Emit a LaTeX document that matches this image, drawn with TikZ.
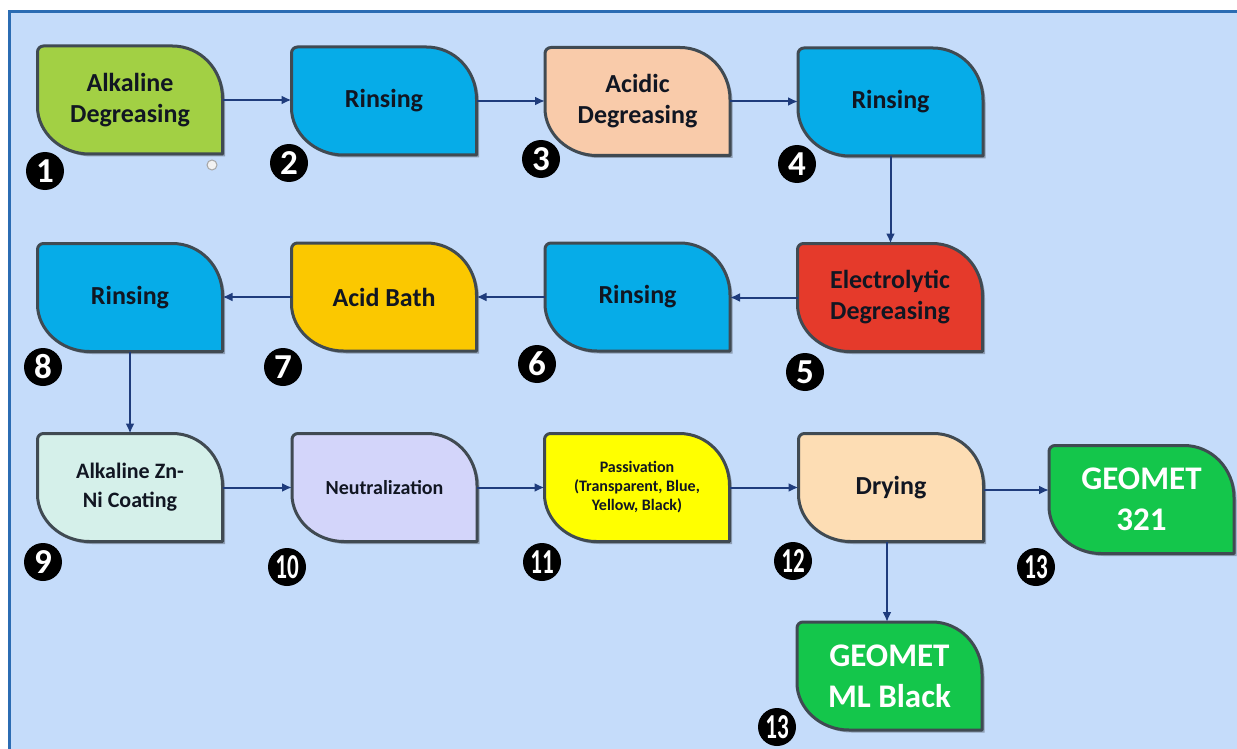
\documentclass[tikz,border=0pt]{standalone}
\usepackage{fontspec}
\setmainfont{Carlito}
\usetikzlibrary{arrows.meta,calc}
\pgfdeclarelayer{back}
\pgfdeclarelayer{background}
\pgfsetlayers{back,background,main}

\definecolor{bgblue}{HTML}{C5DCFA}
\definecolor{frameblue}{HTML}{2B6CB3}
\definecolor{edgegray}{HTML}{404A52}
\definecolor{arrowc}{HTML}{1F3C7C}
\definecolor{textc}{HTML}{111622}
\definecolor{cAlk}{HTML}{A2D044}
\definecolor{cRinse}{HTML}{06ACE8}
\definecolor{cAcidic}{HTML}{F9CBAA}
\definecolor{cElec}{HTML}{E53A2B}
\definecolor{cAcid}{HTML}{FBC800}
\definecolor{cZn}{HTML}{D5F0EA}
\definecolor{cNeut}{HTML}{D3D5FA}
\definecolor{cPass}{HTML}{FFFF00}
\definecolor{cDry}{HTML}{FDDDB4}
\definecolor{cGeo}{HTML}{14C64B}

\tikzset{
  stepnode/.style={rectangle, minimum width=185pt, minimum height=108pt,
    inner sep=0pt, outer sep=0pt, align=center,
    font=\bfseries\fontsize{26}{31}\selectfont, text=textc},
  geonode/.style={stepnode, text=white, font=\bfseries\fontsize{33}{41}\selectfont},
  badge/.style={circle, fill=black, text=white, minimum size=38pt, inner sep=0pt,
    font=\bfseries\fontsize{35}{35}\selectfont},
  flow/.style={draw=arrowc, line width=2pt, -{Latex[length=10pt,width=9pt]}},
  leafshape/.style={draw=edgegray, line width=3pt, line join=round},
}

\newcommand\leafpath[1]{($(#1.north west)+(0pt,-6pt)$) .. controls ($(#1.north west)+(0pt,-2.7pt)$) and ($(#1.north west)+(2.7pt,0pt)$) .. ($(#1.north west)+(6pt,0pt)$) -- ($(#1.north east)+(-50pt,0pt)$) .. controls ($(#1.north east)+(-22.4pt,0pt)$) and ($(#1.north east)+(0pt,-23pt)$) .. ($(#1.north east)+(0pt,-52pt)$) -- (#1.south east) -- ($(#1.south west)+(52pt,0pt)$) .. controls ($(#1.south west)+(23pt,0pt)$) and ($(#1.south west)+(0pt,22pt)$) .. ($(#1.south west)+(0pt,47pt)$) -- cycle}
\newcommand\leafdraw[2]{%
  \fill[black, opacity=0.28, transform canvas={shift={(2.5pt,-2.5pt)}}] \leafpath{#1};
  \path[leafshape, fill=#2] \leafpath{#1};}

\begin{document}
\begin{tikzpicture}[x=1pt, y=-1pt]
\useasboundingbox (0,0) rectangle (1237,749);
\begin{pgfonlayer}{back}
  \fill[white] (0,0) rectangle (1237,749);
  \fill[bgblue] (9,11) rectangle (1237,749);
  \draw[frameblue, line width=3.5pt] (9.5,749) -- (9.5,11.5) -- (1237,11.5);
\end{pgfonlayer}

% process steps
\node[stepnode] (n1) at (130,100) {Alkaline\\Degreasing};
\node[stepnode] (n2) at (384,101) {Rinsing};
\node[stepnode] (n3) at (637.5,101.5) {Acidic\\Degreasing};
\node[stepnode] (n4) at (890.5,102) {Rinsing};
\node[stepnode] (n5) at (890,297.5) {Electrolytic\\Degreasing};
\node[stepnode] (n6) at (637.5,297) {Rinsing};
\node[stepnode] (n7) at (384,297) {Acid Bath};
\node[stepnode] (n8) at (130,297.5) {Rinsing};
\node[stepnode, font=\bfseries\fontsize{22}{29}\selectfont] (n9) at (130,487.5) {Alkaline Zn-\\Ni Coating};
\node[stepnode, font=\bfseries\fontsize{20}{24}\selectfont] (n10) at (384.5,487.5) {Neutralization};
\node[stepnode, font=\bfseries\fontsize{16}{19}\selectfont] (n11) at (637,487.5) {Passivation\\(Transparent, Blue,\\Yellow, Black)};
\node[stepnode] (n12) at (891,487.5) {Drying};
\node[geonode] (n13a) at (1141.5,499.5) {GEOMET\\321};
\node[geonode] (n13b) at (889.5,676) {GEOMET\\ML Black};

\begin{pgfonlayer}{background}
  \leafdraw{n1}{cAlk}
  \leafdraw{n2}{cRinse}
  \leafdraw{n3}{cAcidic}
  \leafdraw{n4}{cRinse}
  \leafdraw{n5}{cElec}
  \leafdraw{n6}{cRinse}
  \leafdraw{n7}{cAcid}
  \leafdraw{n8}{cRinse}
  \leafdraw{n9}{cZn}
  \leafdraw{n10}{cNeut}
  \leafdraw{n11}{cPass}
  \leafdraw{n12}{cDry}
  \leafdraw{n13a}{cGeo}
  \leafdraw{n13b}{cGeo}
\end{pgfonlayer}

% small icon under step 1
\node[circle, draw=gray!70, fill=white!90!gray, line width=1pt, minimum size=10pt, inner sep=0pt] (ico) at (212,165) {};

% badges
\node[badge] (b1) at (45,171) {1};
\node[badge] (b2) at (289,163) {2};
\node[badge] (b3) at (541,159) {3};
\node[badge] (b4) at (797,164) {4};
\node[badge] (b5) at (805,372) {5};
\node[badge] (b6) at (537,364) {6};
\node[badge] (b7) at (283,367) {7};
\node[badge] (b8) at (43,367) {8};
\node[badge] (b9) at (43,562) {9};
\node[badge] (b10) at (287,567) {\scalebox{0.66}[1]{10}};
\node[badge] (b11) at (542,562) {\scalebox{0.66}[1]{11}};
\node[badge] (b12) at (793,561) {\scalebox{0.66}[1]{12}};
\node[badge] (b13a) at (1036,567) {\scalebox{0.66}[1]{13}};
\node[badge] (b13b) at (777,727) {\scalebox{0.66}[1]{13}};

% connectors
\draw[flow] (n1.east) -- (n1.east -| n2.west);
\draw[flow] (n2.east) -- (n2.east -| n3.west);
\draw[flow] (n3.east) -- (n3.east -| n4.west);
\draw[flow] (n4.south) -- (n4.south |- n5.north);
\draw[flow] (n5.west) -- (n5.west -| n6.east);
\draw[flow] (n6.west) -- (n6.west -| n7.east);
\draw[flow] (n7.west) -- (n7.west -| n8.east);
\draw[flow] (n8.south) -- (n8.south |- n9.north);
\draw[flow] (n9.east) -- (n9.east -| n10.west);
\draw[flow] (n10.east) -- (n10.east -| n11.west);
\draw[flow] (n11.east) -- (n11.east -| n12.west);
\draw[flow] ([yshift=-2.5pt]n12.east) -- ([yshift=-2.5pt]n12.east -| n13a.west);
\draw[flow] ([xshift=-4pt]n12.south) -- ([xshift=-4pt]n12.south |- n13b.north);
\end{tikzpicture}
\end{document}
